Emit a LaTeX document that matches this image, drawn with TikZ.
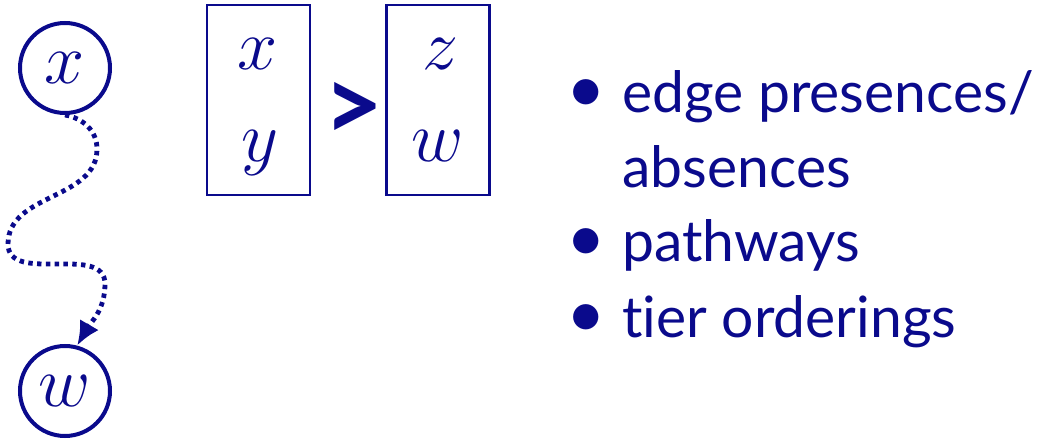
\RequirePackage{fix-cm}
\documentclass[tikz,border=0pt]{standalone}
\usepackage{fontspec}
\setmainfont{Lato}[Ligatures=NoCommon]
\usetikzlibrary{arrows.meta}
\definecolor{slideblue}{RGB}{10,10,140}

\begin{document}
\begin{tikzpicture}[x=0.5pt,y=0.5pt,>={Latex[length=12pt,width=11pt]},
    color=slideblue,
    var/.style={circle,draw,line width=2pt,minimum size=45pt,inner sep=0pt,
        font=\fontsize{36}{36}\selectfont},
    tier/.style={draw,line width=1.25pt,minimum width=51.5pt,minimum height=95pt},
    letter/.style={anchor=base,inner sep=0pt,font=\fontsize{36}{36}\selectfont},
    item/.style={anchor=base west,inner sep=0pt,font=\fontsize{28.5}{30}\selectfont},
    pathway/.style={line width=2.4pt,dash pattern=on 2.2pt off 2.2pt}]

    % Page frame
    \useasboundingbox (0,0) rectangle (1042,439);

    % Path diagram
    \node[var] (x) at (65,371) {$x$};
    \node[var] (w) at (65,48) {$w$};

    \coordinate (b1) at (97,290);   % first bend, right
    \coordinate (b2) at (8,195);    % second bend, left
    \coordinate (b3) at (105,155);  % third bend, right

    \draw[pathway,->] (x.south) to[out=-10,in=90] (b1)
        to[out=-90,in=90] (b2) to[out=-90,in=90] (b3)
        to[out=-90,in=60] (w.75);

    % Tier ordering
    \node[tier] (tierA) at (258.5,339) {};
    \node[tier] (tierB) at (438,339) {};
    \node[letter] (tx) at (258,369) {$x$};
    \node[letter] (ty) at (260,277) {$y$};
    \node[letter] (tz) at (440,369) {$z$};
    \node[letter] (tw) at (438,277) {$w$};
    \node[font=\bfseries\fontsize{52}{52}\selectfont] (gt) at (354,327) {>};

    % Kinds of knowledge
    \node[item] (i1) at (566,326) {\fontsize{34}{30}\selectfont •};
    \node[item] (l1) at (622,326) {edge presences/};
    \node[item] (l2) at (622,251) {absences};
    \node[item] (i3) at (566,177) {\fontsize{34}{30}\selectfont •};
    \node[item] (l3) at (622,177) {pathways};
    \node[item] (i4) at (566,102) {\fontsize{34}{30}\selectfont •};
    \node[item] (l4) at (622,102) {tier orderings};

\end{tikzpicture}
\end{document}
